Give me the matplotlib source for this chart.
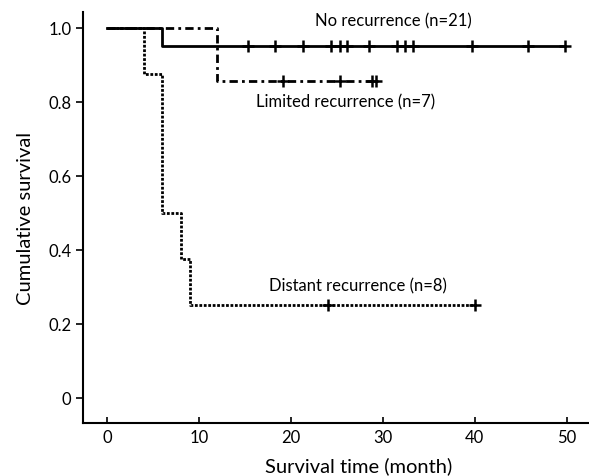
import matplotlib
matplotlib.use("Agg")
import matplotlib.pyplot as plt

plt.rcParams['font.family'] = ['Lato', 'DejaVu Sans']

# Kaplan-Meier step data
no_rec_t = [0, 6, 49.5]
no_rec_s = [1.0, 0.952, 0.952]
no_rec_cens = [15.3, 18.3, 21.3, 24.4, 25.3, 26.1, 28.5, 31.6, 32.4, 33.3, 39.7, 45.8, 49.8]

lim_t = [0, 12, 29.4]
lim_s = [1.0, 0.857, 0.857]
lim_cens = [19.2, 25.3, 28.8, 29.3]

dist_t = [0, 4, 6, 8, 9, 40]
dist_s = [1.0, 0.875, 0.5, 0.375, 0.25, 0.25]
dist_cens = [24, 40]

labels = ["No recurrence (n=21)", "Limited recurrence (n=7)", "Distant recurrence (n=8)"]
xticks = [0, 10, 20, 30, 40, 50]
yticks = [0, 0.2, 0.4, 0.6, 0.8, 1.0]
yticklabels = ["0", "0.2", "0.4", "0.6", "0.8", "1.0"]

fig = plt.figure(figsize=(5.89, 4.77), dpi=100)
ax = fig.add_axes([0.141, 0.111, 0.857, 0.862])

def surv_at(t_list, s_list, t):
    s = s_list[0]
    for ti, si in zip(t_list, s_list):
        if ti <= t:
            s = si
    return s

ax.step(dist_t, dist_s, where='post', color='black', lw=2, linestyle=(0, (1, 0.6)))
ax.step(lim_t, lim_s, where='post', color='black', lw=2, linestyle=(0, (3, 1.5, 1, 1.5)))
ax.step(no_rec_t, no_rec_s, where='post', color='black', lw=2, linestyle='-')

for t_list, s_list, cens in [(no_rec_t, no_rec_s, no_rec_cens), (lim_t, lim_s, lim_cens), (dist_t, dist_s, dist_cens)]:
    ax.plot(cens, [surv_at(t_list, s_list, c) for c in cens], linestyle='none',
            marker='+', markersize=8, mew=1.8, color='black')

ax.text(31.2, 1.02, labels[0], ha='center', va='center', fontsize=12)
ax.text(25.9, 0.80, labels[1], ha='center', va='center', fontsize=12)
ax.text(27.3, 0.304, labels[2], ha='center', va='center', fontsize=12)

ax.set_xlim(-2.6, 52.3)
ax.set_ylim(-0.068, 1.043)
ax.set_xticks(xticks)
ax.set_yticks(yticks)
ax.set_yticklabels(yticklabels)
ax.tick_params(axis='x', direction='in', length=4, width=1.2, labelsize=12, pad=4)
ax.tick_params(axis='y', direction='out', length=5, width=1.2, labelsize=12)
for s in ['top', 'right']:
    ax.spines[s].set_visible(False)
for s in ['left', 'bottom']:
    ax.spines[s].set_linewidth(1.5)

ax.set_xlabel("Survival time (month)", fontsize=14.5)
ax.xaxis.set_label_coords(0.545, -0.08)
ax.set_ylabel("Cumulative survival", fontsize=14.5, labelpad=10)

fig.savefig("out.png", dpi=100)
